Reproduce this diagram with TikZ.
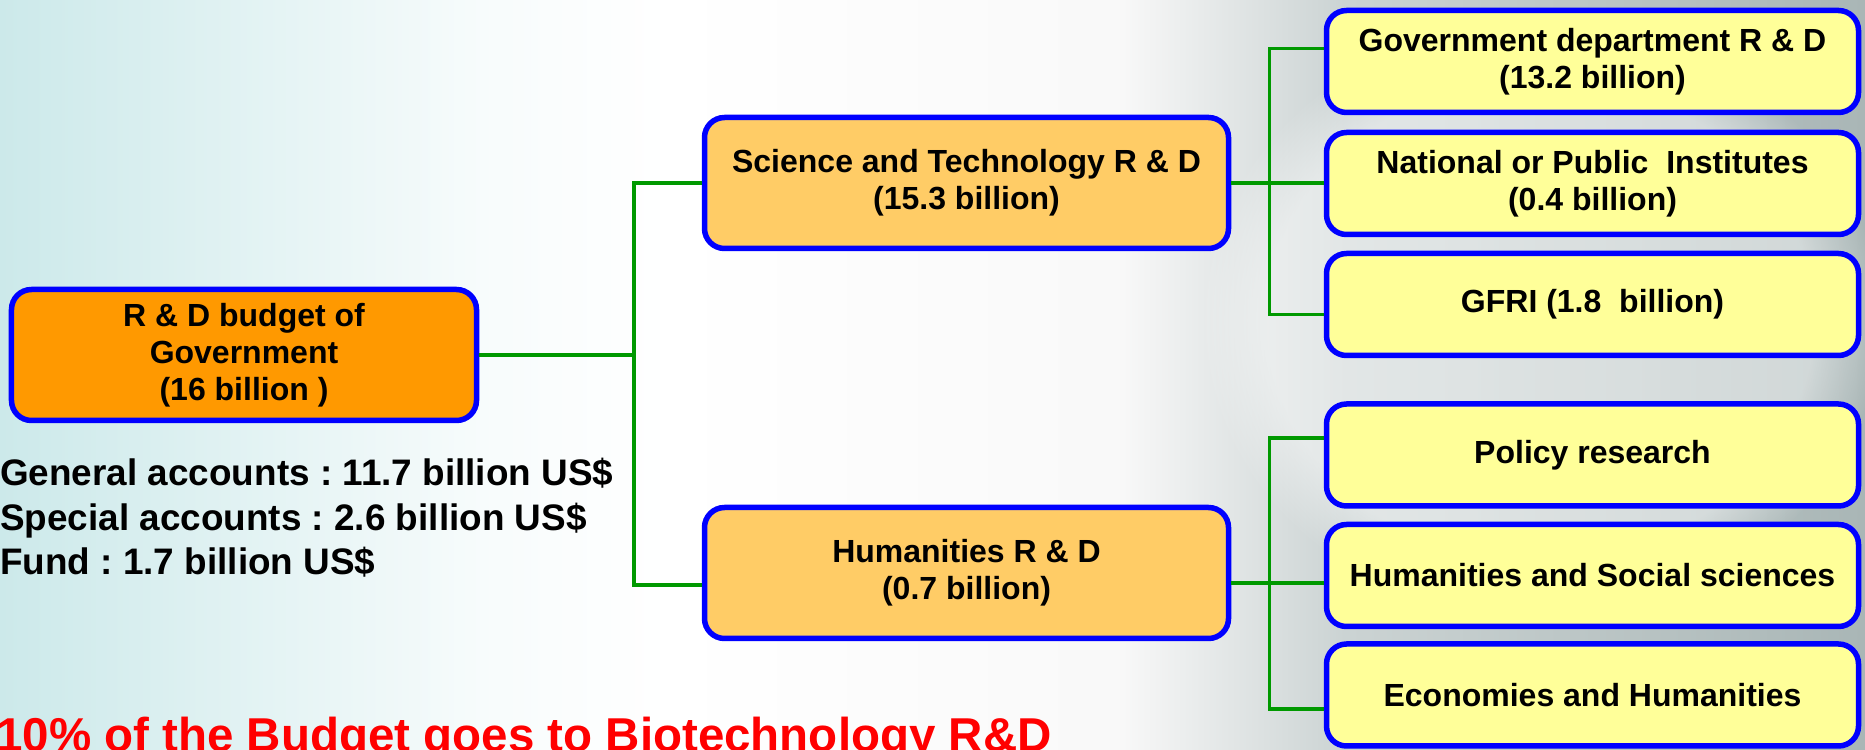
\documentclass[tikz,border=0pt]{standalone}
\usepackage{fontspec}
\setmainfont{Liberation Sans}
\frenchspacing
\usetikzlibrary{shapes,fadings}
\definecolor{rdblue}{HTML}{0000FF}
\definecolor{rdgreen}{HTML}{009900}
\definecolor{rdorange}{HTML}{FF9900}
\definecolor{rdlight}{HTML}{FFCC66}
\definecolor{rdyellow}{HTML}{FFFF99}
\definecolor{bgleft}{HTML}{CCE9EA}
\definecolor{bgright}{HTML}{A9B6B6}
\pgfdeclarehorizontalshading{bgshade}{100bp}{color(0bp)=(bgleft); color(25bp)=(bgleft);
	color(38bp)=(white!85!bgleft); color(43bp)=(white); color(55bp)=(white!95!gray);
	color(61bp)=(bgright!60!white); color(75bp)=(bgright); color(100bp)=(bgright)}
\tikzset{
	rdnode/.style = {align=center, inner sep=0pt, text centered, rounded corners=20bp,
		font=\fontsize{32bp}{37bp}\selectfont\bfseries, draw=rdblue, line width=5.5bp},
	rd_top/.style = {rdnode, fill=rdorange, minimum width=465bp,
		minimum height=131bp},% budget total
	rd_mid/.style = {rdnode, fill=rdlight, minimum width=524bp,
		minimum height=131bp},% two branches
	rd_leaf/.style = {rdnode, fill=rdyellow, minimum width=532bp,
		minimum height=102bp},% sub items
	rd_link/.style = {draw=rdgreen, line width=3.5bp}
}
\begin{document}
\begin{tikzpicture}[x=1bp, y=1bp]
	\useasboundingbox (0,0) rectangle (1865,750);
	\clip (0,0) rectangle (1865,750);
	\shade[shading=bgshade] (0,0) rectangle (1865,750);
	\fill[white, opacity=0.45, path fading=circle with fuzzy edge 20 percent]
		(1540,430) ellipse [x radius=340, y radius=300];
	
	\node[rd_top] (root) at (244,395) {R \& D budget of\\Government\\(16 billion\ )};
	\node[rd_mid] (sci) at (966.5,567) {Science and Technology R \& D\\(15.3 billion)};
	\node[rd_mid] (hum) at (966.5,177) {Humanities R \& D\\(0.7 billion)};
	\node[rd_leaf] (gov) at (1592.5,688.5) {Government department R \& D\\(13.2 billion)};
	\node[rd_leaf] (nat) at (1592.5,566.5) {National or Public\ \ Institutes\\(0.4 billion)};
	\node[rd_leaf] (gfri) at (1592.5,445.5) {GFRI (1.8\ \ billion)};
	\node[rd_leaf] (policy) at (1592.5,295) {Policy research};
	\node[rd_leaf] (humsoc) at (1592.5,174.5) {Humanities and Social sciences};
	\node[rd_leaf] (econ) at (1592.5,55) {Economies and Humanities};
	
	\node[anchor=north west, align=left, inner sep=0pt,
		font=\fontsize{36.9bp}{44.5bp}\selectfont\bfseries] (accounts) at (0,292)
		{General accounts : 11.7 billion US\$\\Special accounts : 2.6 billion US\$\\Fund : 1.7 billion US\$};
	\node[anchor=base west, inner sep=0pt, text=red,
		font=\fontsize{47.5bp}{50bp}\selectfont\bfseries] (share) at (-4,-2)
		{10\% of the Budget goes to Biotechnology R\&D};
	
	% connectors
	\coordinate (jL) at ([xshift=-68bp]sci.west);
	\draw[rd_link] (sci.west) -- (jL) |- ([yshift=-12bp]hum.west);
	\draw[rd_link] (root.east) -- (root.east -| jL);
	\coordinate (jR) at ([xshift=38bp]sci.east);
	\draw[rd_link] ([yshift=13bp]gov.west) -| (jR) |- ([yshift=-10bp]gfri.west);
	\draw[rd_link] (sci.east) -- (sci.east -| nat.west);
	\coordinate (jH) at ([xshift=38bp,yshift=-10bp]hum.east);
	\draw[rd_link] ([yshift=17bp]policy.west) -| (jH) |- ([yshift=-14bp]econ.west);
	\draw[rd_link] ([yshift=-10bp]hum.east) -- (jH -| humsoc.west);
\end{tikzpicture}
\end{document}
